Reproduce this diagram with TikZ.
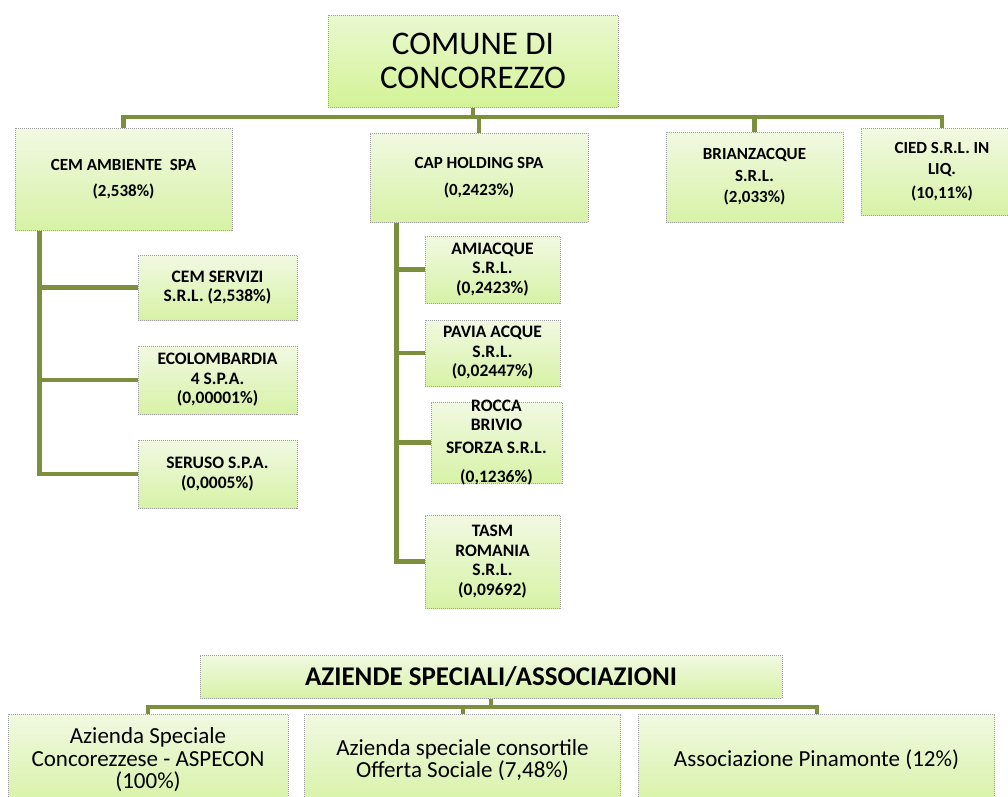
\documentclass[tikz,border=0pt]{standalone}
\usepackage{fontspec}
\setmainfont{Carlito}
\usepackage{xcolor}
\usepackage{tikz}
\usetikzlibrary{positioning}
\definecolor{boxtop}{RGB}{241,249,226}
\definecolor{boxbot}{RGB}{215,242,166}
\definecolor{headtop}{RGB}{234,248,208}
\definecolor{headbot}{RGB}{211,243,150}
\definecolor{linkgreen}{RGB}{124,143,60}
\tikzstyle{company} = [rectangle, minimum width=217, minimum height=90, text centered, align=center, top color=boxtop, bottom color=boxbot, draw=gray!75, densely dotted, line width=1pt, font=\bfseries\fontsize{17}{21.5}\selectfont]
\tikzstyle{headbox} = [company, top color=headtop, bottom color=headbot, font=\fontsize{33}{34}\selectfont]
\tikzstyle{subbox} = [company, minimum width=159, minimum height=67, font=\bfseries\fontsize{17.5}{19.5}\selectfont]
\tikzstyle{groupbox} = [company, font=\bfseries\fontsize{27}{28}\selectfont]
\tikzstyle{entbox} = [company, minimum height=92, font=\fontsize{23}{22.5}\selectfont]
\tikzstyle{link} = [line width=4.5pt, draw=linkgreen]

\begin{document}
\begin{tikzpicture}[x=1pt, y=-1pt, node distance=93pt]
    \useasboundingbox (0,0) rectangle (1008,796);
    \clip (0,0) rectangle (1008,796);

    % Comune and its companies
    \node (comune) [headbox, minimum width=290, minimum height=92] at (473,61) {COMUNE DI\\CONCOREZZO};
    \node (cem) [company, minimum height=102] at (123.5,179) {CEM AMBIENTE\ \ SPA\\[5pt](2,538\%)};
    \node (cap) [company, minimum width=218, minimum height=89] at (479,177.5) {CAP HOLDING SPA\\[6pt](0,2423\%)};
    \node (brianz) [company, minimum width=177] at (754.5,177) {BRIANZACQUE\\S.R.L.\\(2,033\%)};
    \node (cied) [company, minimum width=162, minimum height=87] at (942,171.5) {CIED S.R.L. IN\\LIQ.\\[2pt](10,11\%)};

    % CEM Ambiente group
    \node (cemserv) [subbox, minimum height=65] at (217.5,287.5) {CEM SERVIZI\\S.R.L. (2,538\%)};
    \node (ecolomb) [subbox, minimum height=68, below of=cemserv, yshift=0.5] {ECOLOMBARDIA\\4 S.P.A.\\(0,00001\%)};
    \node (seruso) [subbox, minimum height=68, below of=ecolomb, yshift=-1] {SERUSO S.P.A.\\(0,0005\%)};

    % CAP Holding group
    \node (amiacque) [subbox, minimum width=135] at (492.5,269.5) {AMIACQUE\\S.R.L.\\(0,2423\%)};
    \node (pavia) [subbox, minimum width=135, minimum height=66, below of=amiacque, yshift=9.5] {PAVIA ACQUE\\S.R.L.\\(0,02447\%)};
    \node (rocca) [subbox, minimum width=131, minimum height=81, below of=pavia, xshift=4, yshift=3.5] {};
    \node [font=\bfseries\fontsize{17.5}{19}\selectfont, align=center] at (rocca) {ROCCA\\BRIVIO\\[4pt]SFORZA S.R.L.\\[10pt](0,1236\%)};
    \node (tasm) [subbox, minimum width=135, minimum height=93, below of=rocca, xshift=-4, yshift=-26] {TASM\\ROMANIA\\S.R.L.\\(0,09692)};

    % Aziende speciali
    \node (aziende) [groupbox, minimum width=582, minimum height=43] at (491,676.5) {AZIENDE SPECIALI/ASSOCIAZIONI};
    \node (aspecon) [entbox, minimum width=280] at (148,760) {Azienda Speciale\\Concorezzese - ASPECON\\(100\%)};
    \node (offerta) [entbox, minimum width=316] at (462.5,760) {Azienda speciale consortile\\Offerta Sociale (7,48\%)};
    \node (pinamonte) [entbox, minimum width=356] at (816.5,760) {Associazione Pinamonte (12\%)};

    % Connectors
    \coordinate (bus) at (473,117);
    \draw [link] (comune.south) -- (bus);
    \draw [link] (bus) -| (cem.north);
    \draw [link] (bus) -| (cap.north);
    \draw [link] (bus) -| (brianz.north);
    \draw [link] (bus) -| (cied.north);

    \coordinate (cemroot) at ([xshift=25]cem.south west);
    \draw [link] (cemroot) |- (seruso.west);
    \draw [link] (cemroot) |- (cemserv.west);
    \draw [link] (cemroot) |- (ecolomb.west);

    \coordinate (caproot) at ([xshift=27]cap.south west);
    \draw [link] (caproot) |- (tasm.west);
    \draw [link] (caproot) |- (amiacque.west);
    \draw [link] (caproot) |- (pavia.west);
    \draw [link] (caproot) |- (rocca.west);

    \coordinate (abus) at (491,707);
    \draw [link, line width=4pt] (aziende.south) -- (abus);
    \draw [link, line width=4pt] (abus) -| (aspecon.north);
    \draw [link, line width=4pt] (abus) -| (offerta.north);
    \draw [link, line width=4pt] (abus) -| (pinamonte.north);
\end{tikzpicture}
\end{document}
